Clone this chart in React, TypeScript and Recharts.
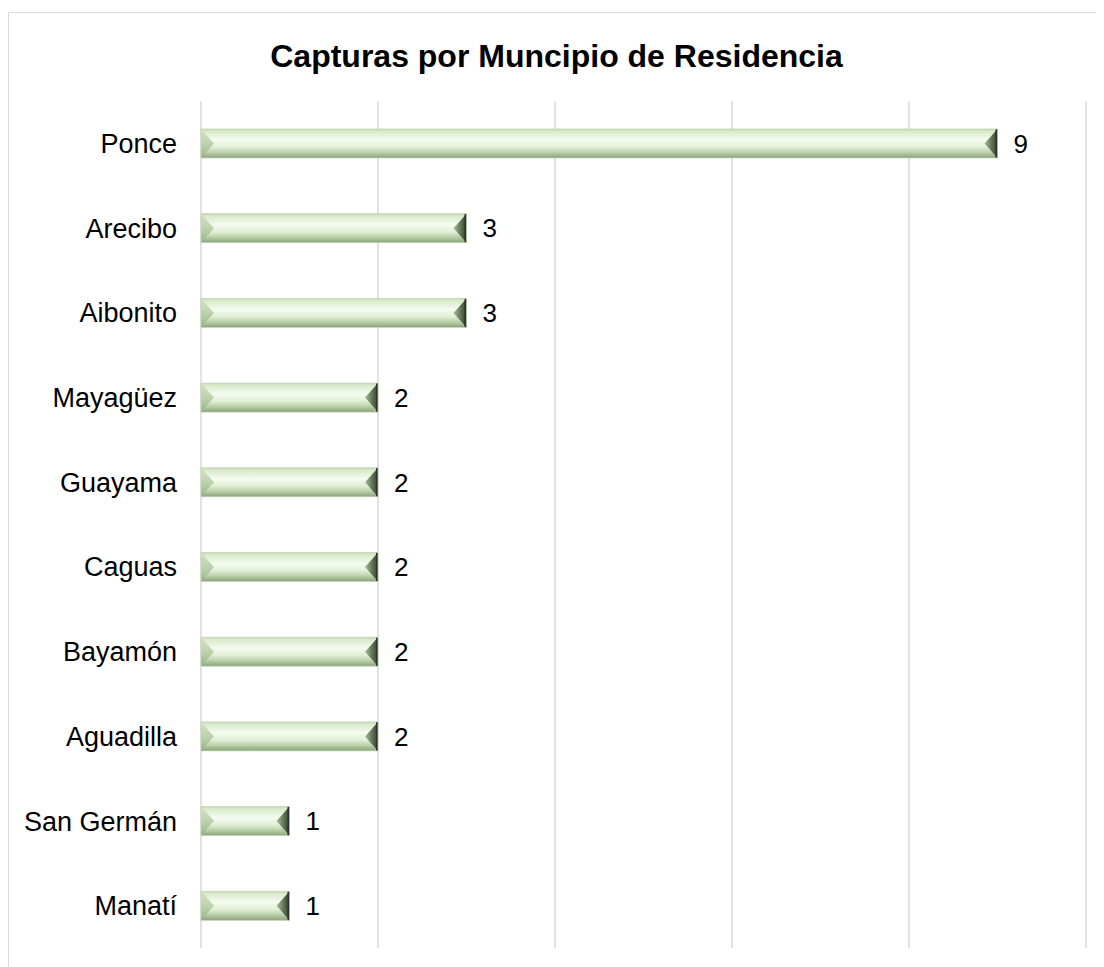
import React from "react";
import {
  BarChart,
  Bar,
  XAxis,
  YAxis,
  CartesianGrid,
  LabelList,
} from "recharts";

// Municipios (top to bottom) and capture counts
const municipios = [
  "Ponce",
  "Arecibo",
  "Aibonito",
  "Mayagüez",
  "Guayama",
  "Caguas",
  "Bayamón",
  "Aguadilla",
  "San Germán",
  "Manatí",
];
const capturas = [9, 3, 3, 2, 2, 2, 2, 2, 1, 1];
const xTicks = [0, 2, 4, 6, 8, 10];

const data = municipios.map((name, i) => ({ name, value: capturas[i] }));

const FONT = "'Liberation Sans', Arial, sans-serif";

/**
 * Bevelled bar, imitating the Excel "bevel" shape effect
 */
const BevelBar = (props: any) => {
  const { x, y, width, height, index } = props;
  if (!width || width <= 0) return null;
  const bh = Math.min(13, width / 2);
  const mid = y + height / 2;
  const id = `bev-${index}`;
  return (
    <g>
      <defs>
        <linearGradient id={`${id}-face`} x1="0" y1="0" x2="0" y2="1">
          <stop offset="0%" stopColor="#c4d8b4" />
          <stop offset="8%" stopColor="#d8eacb" />
          <stop offset="38%" stopColor="#f5fbf0" />
          <stop offset="62%" stopColor="#e2efd8" />
          <stop offset="80%" stopColor="#bcd2ab" />
          <stop offset="100%" stopColor="#8aa279" />
        </linearGradient>
        <linearGradient id={`${id}-left`} x1="0" y1="0" x2="0" y2="1">
          <stop offset="0%" stopColor="#cfe3bf" />
          <stop offset="100%" stopColor="#98b386" />
        </linearGradient>
        <linearGradient id={`${id}-right`} x1="0" y1="0" x2="1" y2="0">
          <stop offset="0%" stopColor="#a9bd9a" />
          <stop offset="60%" stopColor="#5c6e52" />
          <stop offset="100%" stopColor="#34402e" />
        </linearGradient>
      </defs>
      <rect x={x} y={y} width={width} height={height} fill={`url(#${id}-face)`} />
      {/* left bevel */}
      <polygon
        points={`${x},${y} ${x + bh},${mid} ${x},${y + height}`}
        fill={`url(#${id}-left)`}
        opacity={0.85}
      />
      {/* right bevel */}
      <polygon
        points={`${x + width},${y} ${x + width - bh},${mid} ${x + width},${y + height}`}
        fill={`url(#${id}-right)`}
      />
      <line
        x1={x + width - 1}
        y1={y}
        x2={x + width - 1}
        y2={y + height}
        stroke="#2a3325"
        strokeWidth={2}
      />
      <rect
        x={x}
        y={y}
        width={width}
        height={height}
        fill="none"
        stroke="#c3d3b7"
        strokeWidth={0.75}
      />
    </g>
  );
};

export default function App() {
  return (
    <div
      style={{
        position: "relative",
        marginTop: 4,
        width: 1096,
        height: 955,
        borderTop: "1px solid #d9d9d9",
        borderLeft: "1px solid #d9d9d9",
        background: "#fff",
        fontFamily: FONT,
      }}
    >
      <div
        style={{
          position: "absolute",
          top: 27,
          left: 0,
          width: 1095,
          textAlign: "center",
          fontSize: 32,
          lineHeight: "32px",
          fontWeight: "bold",
          color: "#000",
        }}
      >
        Capturas por Muncipio de Residencia
      </div>
      <BarChart
        width={1095}
        height={954}
        data={data}
        layout="vertical"
        margin={{ top: 88, right: 18, bottom: 19, left: 0 }}
        barSize={29}
      >
        <CartesianGrid
          horizontal={false}
          stroke="#d9d9d9"
          strokeWidth={1.5}
        />
        <XAxis
          type="number"
          domain={[0, 10]}
          ticks={xTicks}
          hide
        />
        <YAxis
          type="category"
          dataKey="name"
          width={192}
          axisLine={false}
          tickLine={false}
          tickSize={0}
          tickMargin={24}
          tick={{ fontSize: 27, fill: "#000", fontFamily: FONT }}
          interval={0}
        />
        <Bar
          dataKey="value"
          shape={<BevelBar />}
          isAnimationActive={false}
        >
          <LabelList
            dataKey="value"
            position="right"
            offset={16}
            style={{ fontSize: 26, fill: "#000", fontFamily: FONT }}
          />
        </Bar>
      </BarChart>
    </div>
  );
}
